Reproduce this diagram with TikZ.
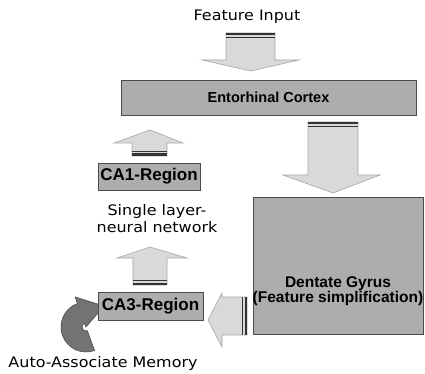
\documentclass[tikz,border=0pt]{standalone}
\usepackage{fontspec}
\setmainfont{Liberation Sans}
\newfontfamily\lblfont[FakeStretch=1.1]{DejaVu Sans}
\newfontfamily\boxfont{Liberation Sans}
\definecolor{boxgray}{gray}{0.68}
\definecolor{arrowgray}{gray}{0.85}
\definecolor{ringgray}{gray}{0.45}
\definecolor{edgegray}{gray}{0.3}

\begin{document}
\begin{tikzpicture}[x=1pt,y=-1pt,
  region/.style={draw=edgegray, fill=boxgray, line width=0.8pt, inner sep=0pt},
  blockarrow/.style={draw=gray!70, fill=arrowgray, line width=0.6pt, line join=miter},
  tailband/.style={fill=black!80},
  caption/.style={font=\lblfont\fontsize{14.5}{17}\selectfont, inner sep=0pt},
  regiontext/.style={font=\boxfont\bfseries\fontsize{17}{20}\selectfont},
  ring/.style={fill=ringgray, draw=black!70, line width=0.6pt}]
\useasboundingbox (0,0) rectangle (425,374);

% input label
\node[caption, anchor=base] (input) at (247,21) {Feature Input};

% input arrow into the entorhinal cortex
\draw[blockarrow] (226,33) -- (275,33) -- (275,60) -- (299,60) -- (250.5,71)
  -- (202,60) -- (226,60) -- cycle;
\fill[tailband] (226,33) rectangle (275,35.5);
\fill[tailband] (226,37) rectangle (275,38);

% entorhinal cortex
\node[region, minimum width=295pt, minimum height=35pt,
  font=\boxfont\bfseries\fontsize{14.5}{17}\selectfont] (ec) at (268.5,97.5) {Entorhinal Cortex};

% entorhinal cortex -> dentate gyrus
\draw[blockarrow] (308,122) -- (358,122) -- (358,175) -- (380,175) -- (333,193)
  -- (283,175) -- (308,175) -- cycle;
\fill[tailband] (308,122) rectangle (358,124.5);
\fill[tailband] (308,126) rectangle (358,127);

% dentate gyrus
\node[region, minimum width=170pt, minimum height=137pt] (dg) at (338,265.5) {};
\node[font=\boxfont\bfseries\fontsize{15.5}{13}\selectfont, align=center, inner sep=0pt]
  (dgtext) at (338,291) {Dentate Gyrus\\(Feature simplification)};

% CA1 -> entorhinal cortex
\draw[blockarrow] (132,156) -- (132,143) -- (114,143) -- (150,130) -- (183,143)
  -- (167,143) -- (167,156) -- cycle;
\fill[tailband] (132,153.5) rectangle (167,156);
\fill[tailband] (132,151) rectangle (167,152);

% CA1 region
\node[region, regiontext, minimum width=102pt, minimum height=27pt] (ca1) at (149,176.5) {CA1-Region};
\node[caption, anchor=base] (ca1noteA) at (157,215) {Single layer-};
\node[caption, anchor=base] (ca1noteB) at (157,232) {neural network};

% CA3 -> CA1
\draw[blockarrow] (133,285) -- (133,258) -- (117,258) -- (150,247) -- (187,258)
  -- (167,258) -- (167,285) -- cycle;
\fill[tailband] (133,282.5) rectangle (167,285);
\fill[tailband] (133,280) rectangle (167,281);

% dentate gyrus -> CA3
\draw[blockarrow] (247,297) -- (222,297) -- (222,293) -- (208,320) -- (222,347)
  -- (222,335) -- (247,335) -- cycle;
\fill[tailband] (244.5,297) rectangle (247,335);
\fill[tailband] (242,297) rectangle (243,335);

% recurrent loop of the CA3 region
\begin{scope}[shift={(86,327)}]
  \filldraw[ring] (70:25) arc[start angle=70, end angle=250, radius=25]
    -- (250:32) -- (18,-21) -- (250:0) -- (250:4)
    arc[start angle=250, end angle=70, radius=4] -- cycle;
\end{scope}

% CA3 region
\node[region, regiontext, minimum width=105pt, minimum height=28pt] (ca3) at (150.5,306) {CA3-Region};
\node[caption, anchor=base] (memory) at (103,367) {Auto-Associate Memory};
\end{tikzpicture}
\end{document}
